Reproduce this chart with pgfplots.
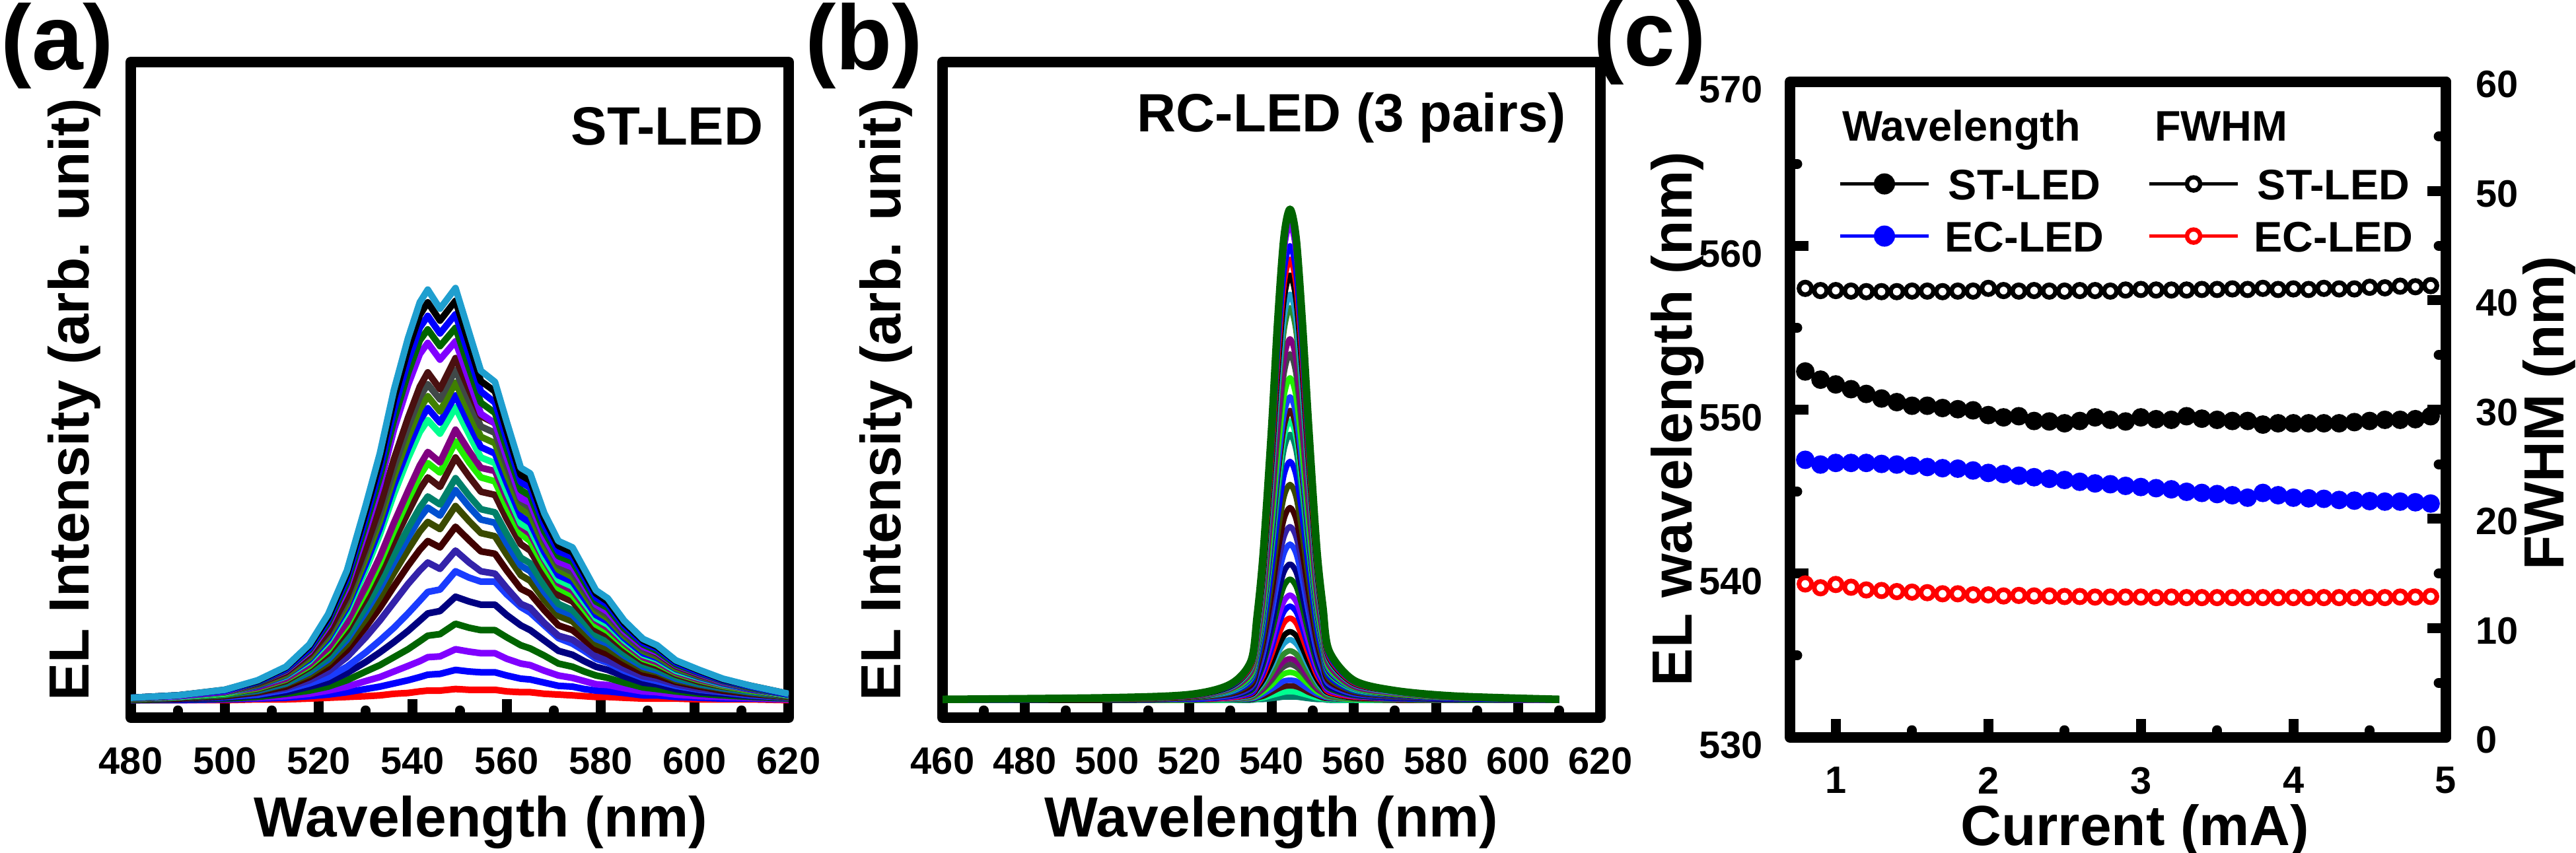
\documentclass[border=0pt]{standalone}
\usepackage{fontspec}
\setmainfont{Liberation Sans}
\usepackage{pgfplots}
\usepackage{pgfplotstable}
\pgfplotsset{compat=1.18}

\definecolor{cRed}{HTML}{FF0000}
\definecolor{cBlue}{HTML}{0000FF}
\definecolor{cViolet}{HTML}{8000FF}
\definecolor{cDkGreen}{HTML}{006400}
\definecolor{cNavy}{HTML}{000080}
\definecolor{cBlueB}{HTML}{1A3CFF}
\definecolor{cSlate}{HTML}{3322AA}
\definecolor{cWine}{HTML}{400000}
\definecolor{cOlive}{HTML}{3A4A00}
\definecolor{cRoyal}{HTML}{0050D0}
\definecolor{cTeal}{HTML}{00806A}
\definecolor{cSpring}{HTML}{00FF90}
\definecolor{cBrown}{HTML}{4A1010}
\definecolor{cLime}{HTML}{22EE00}
\definecolor{cGrey}{HTML}{404848}
\definecolor{cPurple}{HTML}{800080}
\definecolor{cGreen}{HTML}{2E8B2E}
\definecolor{cOlGreen}{HTML}{408000}
\definecolor{cCyan}{HTML}{1F9FCF}
\definecolor{cBlack}{HTML}{000000}

\pgfplotscreateplotcyclelist{alist}{%
cRed\\cBlue\\cViolet\\cDkGreen\\cNavy\\cBlueB\\cSlate\\cWine\\cOlive\\cRoyal\\cTeal\\cBrown\\cLime\\cPurple\\cSpring\\cBlue\\cOlGreen\\cGrey\\cBrown\\cViolet\\cDkGreen\\cBlue\\cBlack\\cCyan\\}
\pgfplotscreateplotcyclelist{blist}{%
cRed\\cBlue\\cViolet\\cDkGreen\\cNavy\\cBlueB\\cSlate\\cWine\\cOlive\\cBlue\\cTeal\\cSpring\\cBrown\\cBlueB\\cLime\\cGrey\\cPurple\\cGreen\\cCyan\\cBlack\\}

% Panel (a): EL spectra, ST-LED (24 currents)
\pgfplotstableread{
x a1 a2 a3 a4 a5 a6 a7 a8 a9 a10 a11 a12 a13 a14 a15 a16 a17 a18 a19 a20 a21 a22 a23 a24
480 0.00 0.00 0.00 0.00 0.01 0.01 0.01 0.01 0.01 0.02 0.02 0.02 0.02 0.02 0.02 0.02 0.02 0.02 0.03 0.03 0.03 0.03 0.03 0.03
490 0.00 0.00 0.01 0.01 0.01 0.02 0.02 0.02 0.03 0.03 0.03 0.03 0.04 0.04 0.04 0.05 0.05 0.05 0.05 0.05 0.06 0.06 0.06 0.06
500 0.00 0.01 0.02 0.02 0.03 0.04 0.05 0.05 0.06 0.07 0.07 0.08 0.08 0.09 0.09 0.10 0.10 0.10 0.11 0.11 0.12 0.12 0.13 0.13
507 0.01 0.02 0.03 0.04 0.06 0.07 0.09 0.10 0.11 0.12 0.13 0.14 0.15 0.16 0.18 0.18 0.19 0.20 0.21 0.22 0.22 0.23 0.24 0.25
513 0.01 0.03 0.05 0.08 0.10 0.13 0.15 0.17 0.20 0.21 0.22 0.24 0.26 0.27 0.30 0.31 0.32 0.34 0.35 0.37 0.38 0.39 0.41 0.42
518 0.02 0.05 0.08 0.12 0.17 0.21 0.25 0.29 0.32 0.35 0.37 0.41 0.43 0.45 0.49 0.51 0.53 0.56 0.58 0.61 0.63 0.65 0.68 0.70
522 0.03 0.07 0.12 0.17 0.23 0.29 0.36 0.42 0.47 0.51 0.54 0.59 0.63 0.66 0.74 0.77 0.80 0.83 0.86 0.94 0.97 1.01 1.04 1.08
526 0.04 0.10 0.17 0.25 0.34 0.42 0.54 0.63 0.70 0.76 0.80 0.88 0.94 0.98 1.11 1.16 1.20 1.25 1.30 1.42 1.47 1.53 1.58 1.63
530 0.05 0.14 0.24 0.36 0.48 0.60 0.79 0.92 1.02 1.11 1.17 1.28 1.36 1.43 1.64 1.71 1.78 1.86 1.92 2.13 2.21 2.29 2.37 2.45
533 0.06 0.17 0.29 0.44 0.60 0.75 1.00 1.16 1.29 1.40 1.48 1.62 1.72 1.80 2.08 2.16 2.25 2.34 2.43 2.70 2.80 2.90 3.00 3.10
536 0.08 0.21 0.36 0.54 0.73 0.91 1.23 1.43 1.60 1.73 1.83 2.00 2.13 2.23 2.59 2.70 2.81 2.92 3.03 3.40 3.52 3.65 3.78 3.90
539 0.09 0.25 0.43 0.64 0.87 1.09 1.46 1.69 1.89 2.04 2.16 2.36 2.52 2.63 3.04 3.16 3.30 3.43 3.55 3.96 4.11 4.26 4.41 4.55
541.5 0.11 0.29 0.49 0.74 1.00 1.25 1.63 1.89 2.12 2.29 2.42 2.65 2.82 2.95 3.37 3.51 3.66 3.81 3.94 4.35 4.52 4.68 4.84 5.00
543.2 0.12 0.32 0.54 0.81 1.09 1.36 1.73 2.00 2.24 2.42 2.56 2.80 2.98 3.12 3.52 3.67 3.82 3.97 4.12 4.49 4.66 4.83 5.00 5.16
545.8 0.12 0.33 0.55 0.83 1.12 1.39 1.65 1.92 2.15 2.32 2.46 2.68 2.86 2.99 3.35 3.49 3.63 3.78 3.91 4.28 4.45 4.61 4.77 4.92
549.1 0.14 0.38 0.64 0.96 1.30 1.62 1.88 2.18 2.44 2.64 2.79 3.05 3.25 3.40 3.68 3.83 3.99 4.15 4.30 4.51 4.68 4.85 5.02 5.18
552 0.13 0.36 0.61 0.91 1.24 1.54 1.73 2.01 2.25 2.43 2.57 2.81 2.99 3.13 3.34 3.47 3.62 3.76 3.90 4.02 4.17 4.33 4.48 4.62
554.5 0.13 0.35 0.59 0.88 1.20 1.49 1.62 1.87 2.10 2.27 2.40 2.62 2.80 2.92 3.05 3.18 3.31 3.44 3.57 3.60 3.74 3.88 4.01 4.14
557.5 0.13 0.35 0.59 0.88 1.20 1.49 1.59 1.84 2.06 2.23 2.36 2.58 2.75 2.88 2.98 3.10 3.23 3.36 3.48 3.48 3.61 3.74 3.88 4.00
560 0.11 0.31 0.52 0.79 1.07 1.33 1.41 1.63 1.83 1.97 2.09 2.28 2.43 2.54 2.62 2.73 2.84 2.95 3.06 3.05 3.16 3.28 3.39 3.50
563 0.10 0.27 0.46 0.69 0.94 1.17 1.21 1.40 1.57 1.69 1.79 1.96 2.09 2.18 2.22 2.31 2.41 2.50 2.59 2.54 2.64 2.74 2.83 2.92
565 0.10 0.26 0.44 0.65 0.88 1.10 1.16 1.34 1.50 1.62 1.72 1.88 2.00 2.09 2.15 2.23 2.33 2.42 2.51 2.48 2.57 2.67 2.76 2.85
568 0.08 0.22 0.37 0.56 0.75 0.94 0.97 1.13 1.26 1.36 1.44 1.58 1.68 1.76 1.79 1.86 1.94 2.02 2.09 2.05 2.12 2.20 2.28 2.35
571 0.07 0.18 0.31 0.46 0.62 0.78 0.81 0.94 1.06 1.14 1.21 1.32 1.41 1.47 1.51 1.57 1.64 1.70 1.76 1.74 1.81 1.87 1.94 2.00
574 0.06 0.17 0.28 0.42 0.57 0.71 0.76 0.88 0.99 1.07 1.13 1.24 1.32 1.38 1.43 1.49 1.55 1.61 1.67 1.67 1.74 1.80 1.86 1.92
576.5 0.05 0.14 0.24 0.36 0.49 0.62 0.66 0.76 0.85 0.92 0.98 1.07 1.14 1.19 1.23 1.28 1.34 1.39 1.44 1.44 1.49 1.55 1.60 1.65
579 0.04 0.12 0.20 0.31 0.42 0.52 0.55 0.64 0.71 0.77 0.82 0.89 0.95 1.00 1.03 1.07 1.12 1.16 1.20 1.20 1.24 1.29 1.34 1.38
581.5 0.04 0.11 0.19 0.28 0.38 0.47 0.50 0.58 0.65 0.71 0.75 0.82 0.87 0.91 0.95 0.99 1.03 1.07 1.11 1.11 1.16 1.20 1.24 1.28
585 0.03 0.09 0.15 0.22 0.30 0.37 0.40 0.46 0.52 0.56 0.59 0.65 0.69 0.72 0.75 0.78 0.81 0.84 0.87 0.87 0.90 0.94 0.97 1.00
589 0.02 0.06 0.11 0.16 0.22 0.28 0.30 0.35 0.39 0.42 0.45 0.49 0.52 0.54 0.57 0.59 0.62 0.64 0.67 0.67 0.70 0.72 0.75 0.77
592 0.02 0.06 0.10 0.14 0.20 0.24 0.27 0.31 0.35 0.37 0.40 0.43 0.46 0.48 0.51 0.53 0.55 0.57 0.59 0.60 0.62 0.65 0.67 0.69
596 0.02 0.04 0.07 0.11 0.14 0.18 0.20 0.23 0.25 0.27 0.29 0.32 0.34 0.35 0.37 0.39 0.40 0.42 0.43 0.44 0.45 0.47 0.49 0.50
601 0.01 0.03 0.05 0.08 0.10 0.13 0.14 0.17 0.19 0.20 0.21 0.23 0.25 0.26 0.28 0.29 0.30 0.31 0.32 0.33 0.34 0.35 0.37 0.38
606 0.01 0.02 0.04 0.06 0.08 0.10 0.11 0.12 0.14 0.15 0.16 0.17 0.18 0.19 0.20 0.21 0.22 0.22 0.23 0.23 0.24 0.25 0.26 0.27
612 0.01 0.02 0.03 0.04 0.05 0.06 0.07 0.08 0.09 0.10 0.11 0.12 0.12 0.13 0.14 0.14 0.15 0.15 0.16 0.16 0.16 0.17 0.18 0.18
620 0.00 0.01 0.01 0.02 0.03 0.03 0.03 0.04 0.04 0.05 0.05 0.05 0.06 0.06 0.06 0.07 0.07 0.07 0.07 0.07 0.07 0.07 0.08 0.08
}\tabA

% Panel (b): EL spectra, RC-LED (34 currents)
\pgfplotstableread{
x b1 b2 b3 b4 b5 b6 b7 b8 b9 b10 b11 b12 b13 b14 b15 b16 b17 b18 b19 b20 b21 b22 b23 b24 b25 b26 b27 b28 b29 b30 b31 b32 b33 b34
460 0.00 0.00 0.00 0.00 0.00 0.00 0.00 0.00 0.00 0.00 0.00 0.00 0.00 0.00 0.00 0.00 0.00 0.01 0.01 0.01 0.01 0.01 0.01 0.01 0.01 0.01 0.01 0.01 0.01 0.01 0.01 0.01 0.01 0.01
500 0.00 0.00 0.00 0.00 0.00 0.00 0.00 0.00 0.00 0.00 0.01 0.01 0.01 0.01 0.01 0.01 0.01 0.01 0.01 0.02 0.02 0.02 0.02 0.02 0.02 0.02 0.02 0.02 0.03 0.03 0.03 0.03 0.03 0.03
520 0.00 0.00 0.00 0.00 0.00 0.01 0.01 0.01 0.01 0.01 0.01 0.01 0.02 0.02 0.02 0.02 0.03 0.03 0.03 0.04 0.04 0.04 0.04 0.05 0.05 0.05 0.05 0.06 0.06 0.06 0.07 0.07 0.07 0.07
530 0.00 0.00 0.01 0.01 0.01 0.01 0.02 0.02 0.02 0.03 0.03 0.04 0.04 0.05 0.05 0.06 0.07 0.08 0.09 0.10 0.11 0.11 0.12 0.12 0.13 0.14 0.15 0.16 0.16 0.17 0.18 0.18 0.19 0.20
535 0.00 0.01 0.01 0.02 0.03 0.04 0.04 0.05 0.06 0.07 0.08 0.09 0.11 0.12 0.14 0.16 0.17 0.19 0.22 0.24 0.27 0.28 0.29 0.30 0.32 0.35 0.36 0.39 0.41 0.43 0.44 0.46 0.48 0.49
536.5 0.01 0.02 0.03 0.04 0.06 0.08 0.09 0.11 0.13 0.15 0.18 0.20 0.22 0.26 0.29 0.33 0.37 0.41 0.46 0.51 0.57 0.60 0.62 0.65 0.69 0.74 0.77 0.84 0.87 0.91 0.94 0.97 1.02 1.05
538 0.01 0.03 0.05 0.08 0.11 0.14 0.16 0.19 0.23 0.26 0.31 0.35 0.40 0.46 0.51 0.59 0.65 0.73 0.81 0.90 1.00 1.05 1.09 1.14 1.22 1.31 1.36 1.48 1.53 1.60 1.66 1.71 1.79 1.85
540 0.02 0.06 0.10 0.14 0.19 0.25 0.29 0.34 0.42 0.47 0.57 0.65 0.73 0.84 0.94 1.08 1.20 1.33 1.49 1.65 1.84 1.93 2.00 2.10 2.23 2.39 2.50 2.71 2.81 2.94 3.05 3.14 3.29 3.39
541.5 0.03 0.08 0.14 0.19 0.27 0.35 0.40 0.48 0.59 0.66 0.79 0.91 1.02 1.17 1.32 1.51 1.68 1.86 2.09 2.31 2.57 2.70 2.80 2.93 3.12 3.35 3.50 3.80 3.93 4.11 4.27 4.40 4.60 4.75
543 0.04 0.10 0.17 0.24 0.33 0.42 0.49 0.58 0.71 0.81 0.97 1.11 1.24 1.43 1.61 1.84 2.05 2.27 2.55 2.82 3.14 3.30 3.42 3.58 3.81 4.09 4.27 4.63 4.79 5.02 5.21 5.37 5.62 5.80
544.5 0.04 0.11 0.18 0.25 0.35 0.45 0.52 0.62 0.76 0.86 1.03 1.18 1.32 1.52 1.71 1.96 2.18 2.42 2.71 3.00 3.34 3.51 3.64 3.81 4.05 4.35 4.54 4.93 5.10 5.34 5.54 5.71 5.98 6.17
546 0.04 0.10 0.17 0.24 0.33 0.42 0.49 0.58 0.71 0.81 0.97 1.11 1.24 1.43 1.61 1.84 2.05 2.27 2.55 2.82 3.14 3.30 3.42 3.58 3.81 4.09 4.27 4.63 4.79 5.02 5.21 5.37 5.62 5.80
547.5 0.03 0.08 0.14 0.19 0.27 0.35 0.40 0.48 0.59 0.66 0.79 0.91 1.02 1.17 1.32 1.51 1.68 1.86 2.09 2.31 2.57 2.70 2.80 2.93 3.12 3.35 3.50 3.80 3.93 4.11 4.27 4.40 4.60 4.75
549 0.02 0.06 0.10 0.14 0.20 0.25 0.29 0.35 0.43 0.48 0.58 0.66 0.74 0.85 0.96 1.10 1.22 1.36 1.52 1.68 1.87 1.97 2.04 2.13 2.27 2.44 2.54 2.76 2.86 2.99 3.10 3.20 3.35 3.46
551 0.01 0.03 0.06 0.08 0.11 0.14 0.16 0.19 0.24 0.27 0.32 0.37 0.41 0.47 0.53 0.61 0.68 0.75 0.84 0.93 1.04 1.09 1.13 1.18 1.26 1.35 1.41 1.53 1.58 1.66 1.72 1.77 1.85 1.91
552.5 0.01 0.02 0.03 0.05 0.07 0.09 0.10 0.12 0.14 0.16 0.20 0.22 0.25 0.29 0.32 0.37 0.41 0.46 0.51 0.57 0.63 0.67 0.69 0.72 0.77 0.83 0.86 0.94 0.97 1.01 1.05 1.08 1.14 1.17
554 0.00 0.01 0.02 0.03 0.04 0.05 0.05 0.06 0.08 0.09 0.10 0.12 0.13 0.15 0.17 0.20 0.22 0.24 0.27 0.30 0.33 0.35 0.36 0.38 0.41 0.44 0.45 0.49 0.51 0.53 0.55 0.57 0.60 0.62
560 0.00 0.00 0.01 0.01 0.01 0.02 0.02 0.02 0.03 0.03 0.04 0.05 0.05 0.06 0.07 0.08 0.09 0.10 0.11 0.12 0.13 0.14 0.15 0.15 0.16 0.17 0.18 0.20 0.20 0.21 0.22 0.23 0.24 0.25
570 0.00 0.00 0.00 0.01 0.01 0.01 0.01 0.01 0.02 0.02 0.02 0.02 0.03 0.03 0.03 0.04 0.04 0.05 0.05 0.06 0.07 0.07 0.07 0.08 0.08 0.09 0.09 0.10 0.10 0.11 0.11 0.11 0.12 0.12
585 0.00 0.00 0.00 0.00 0.00 0.00 0.00 0.00 0.01 0.01 0.01 0.01 0.01 0.01 0.01 0.02 0.02 0.02 0.02 0.02 0.03 0.03 0.03 0.03 0.03 0.03 0.04 0.04 0.04 0.04 0.04 0.05 0.05 0.05
610 0.00 0.00 0.00 0.00 0.00 0.00 0.00 0.00 0.00 0.00 0.00 0.00 0.00 0.01 0.01 0.01 0.01 0.01 0.01 0.01 0.01 0.01 0.01 0.01 0.01 0.01 0.01 0.01 0.01 0.01 0.01 0.01 0.01 0.01
}\tabB

% Panel (c): peak wavelength and FWHM vs current
\pgfplotstableread{
x stw ecw stf ecf
0.8 552.33 546.94 41.10 14.05
0.9 551.83 546.65 40.90 13.70
1.0 551.54 546.75 40.90 14.00
1.1 551.25 546.75 40.85 13.75
1.2 550.96 546.75 40.80 13.50
1.3 550.68 546.69 40.80 13.45
1.4 550.46 546.65 40.80 13.35
1.5 550.24 546.58 40.85 13.30
1.6 550.24 546.50 40.85 13.25
1.7 550.10 546.43 40.80 13.15
1.8 550.03 546.40 40.85 13.15
1.9 549.96 546.29 40.85 13.05
2.0 549.67 546.14 41.10 13.05
2.1 549.53 546.07 40.90 12.95
2.2 549.60 545.97 40.85 13.00
2.3 549.31 545.88 40.90 12.95
2.4 549.28 545.78 40.85 12.95
2.5 549.17 545.71 40.85 12.90
2.6 549.31 545.60 40.90 12.90
2.7 549.53 545.50 40.90 12.85
2.8 549.38 545.45 40.85 12.85
2.9 549.28 545.35 40.95 12.85
3.0 549.53 545.28 41.00 12.85
3.1 549.42 545.21 40.95 12.80
3.2 549.38 545.14 40.95 12.85
3.3 549.60 544.99 40.95 12.80
3.4 549.45 544.92 41.00 12.80
3.5 549.38 544.85 41.00 12.80
3.6 549.31 544.78 41.05 12.80
3.7 549.31 544.63 41.00 12.80
3.8 549.09 544.92 41.10 12.80
3.9 549.17 544.78 41.00 12.80
4.0 549.17 544.63 41.05 12.80
4.1 549.17 544.59 41.00 12.80
4.2 549.17 544.56 41.10 12.80
4.3 549.17 544.49 41.05 12.80
4.4 549.24 544.45 41.05 12.80
4.5 549.31 544.42 41.20 12.80
4.6 549.38 544.39 41.15 12.80
4.7 549.38 544.39 41.30 12.85
4.8 549.42 544.35 41.25 12.85
4.9 549.60 544.27 41.35 12.90
}\tabC

\pgfplotsset{
  myaxis/.style={
    scale only axis,
    anchor=south west,
    axis line style={-, line width=1.6bp, line join=round, line cap=round},
    tick align=inside,
    tick pos=left,
    major tick length=2.8bp,
    minor tick length=1.1bp,
    major tick style={line width=1.5bp, black, line cap=butt},
    minor tick style={line width=1.5bp, black, line cap=round},
    tick label style={font=\fontsize{5.8}{6.8}\selectfont\bfseries},
    label style={font=\fontsize{8.6}{10}\selectfont\bfseries},
    /pgf/number format/assume math mode=true,
    xticklabel style={yshift=-1bp},
  },
}

\begin{document}
\begin{tikzpicture}
\path[use as bounding box] (0bp,0bp) rectangle (390bp,129.2bp);

% ---------- (a) ----------
\begin{axis}[myaxis, at={(19.8bp,20.5bp)}, width=99.6bp, height=99.3bp,
  xmin=480, xmax=620, ymin=-0.22, ymax=8.02,
  xtick={480,500,...,620}, minor xtick={490,510,...,610},
  ytick=\empty, minor ytick={1,...,7},
  xlabel={Wavelength (nm)}, ylabel={EL Intensity (arb. unit)},
  xlabel style={at={(axis description cs:0.532,-0.16)}, anchor=center},
  ylabel style={at={(axis description cs:-0.0863,0.485)}, anchor=center},
  cycle list name=alist, no markers,
  every axis plot/.append style={line width=1.0bp, line join=round},
]
\pgfplotsinvokeforeach{1,...,24}{\addplot table[x=x,y=a#1]{\tabA};}
\end{axis}

% ---------- (b) ----------
\begin{axis}[myaxis, at={(142.7bp,20.5bp)}, width=99.6bp, height=99.3bp,
  xmin=460, xmax=620, ymin=-0.22, ymax=8.02,
  xtick={460,480,...,620}, minor xtick={470,490,...,610},
  ytick=\empty, minor ytick={1,...,7},
  xlabel={Wavelength (nm)}, ylabel={EL Intensity (arb. unit)},
  xlabel style={at={(axis description cs:0.5,-0.16)}, anchor=center},
  ylabel style={at={(axis description cs:-0.0863,0.485)}, anchor=center},
  cycle list name=blist, cycle list shift=10, no markers,
  every axis plot/.append style={line width=0.85bp, line join=round},
]
\pgfplotsinvokeforeach{1,...,33}{\addplot+[smooth] table[x=x,y=b#1]{\tabB};}
\addplot[cDkGreen, line width=1.15bp, smooth] table[x=x,y=b34]{\tabB};
\end{axis}

% ---------- (c) left axis ----------
\begin{axis}[myaxis, at={(271.0bp,17.5bp)}, width=99.3bp, height=99.3bp,
  xmin=0.7, xmax=5, ymin=530, ymax=570,
  xtick={1,...,5}, minor xtick={1.5,2.5,3.5,4.5},
  ytick={530,540,...,570}, minor ytick={535,545,555,565},
  yticklabel style={xshift=-0.6bp, yshift=-1.2bp},
  xlabel={Current (mA)}, ylabel={EL wavelength (nm)},
  xlabel style={at={(axis description cs:0.526,-0.142)}, anchor=center},
  ylabel style={at={(axis description cs:-0.172,0.486)}, anchor=center},
  legend columns=2,
  legend style={draw=none, fill=none, inner sep=0pt, outer sep=0pt,
    at={(axis description cs:0.074,0.868)}, anchor=north west,
    font=\fontsize{6.5}{7.5}\selectfont\bfseries,
    row sep=3.2bp,
    nodes={inner sep=0pt, text height=4.7bp, text depth=0pt},
    /tikz/every odd column/.append style={column sep=2.2bp},
    /tikz/every even column/.append style={column sep=6.6bp}},
  legend image code/.code={\draw[mark repeat=2,mark phase=2,#1] plot coordinates {(0bp,0bp) (6.7bp,0bp) (13.4bp,0bp)};},
]
\addplot[black, line width=0.4bp, mark=*, mark size=1.2bp, forget plot] table[x=x,y=stw]{\tabC};
\addplot[cBlue, line width=0.4bp, mark=*, mark size=1.2bp, forget plot] table[x=x,y=ecw]{\tabC};
\addlegendimage{black, line width=0.5bp, mark=*, mark size=1.35bp}
\addlegendentry{ST-LED}
\addlegendimage{black, line width=0.5bp, mark=*, mark size=1.0bp, mark options={fill=white, line width=0.65bp}}
\addlegendentry{ST-LED}
\addlegendimage{cBlue, line width=0.5bp, mark=*, mark size=1.35bp}
\addlegendentry{EC-LED}
\addlegendimage{cRed, line width=0.5bp, mark=*, mark size=1.0bp, mark options={fill=white, line width=0.65bp}}
\addlegendentry{EC-LED}
\end{axis}

% ---------- (c) right axis ----------
\begin{axis}[myaxis, at={(271.0bp,17.5bp)}, width=99.3bp, height=99.3bp,
  xmin=0.7, xmax=5, ymin=0, ymax=60,
  axis x line=none, axis y line*=right, tick pos=right,
  ytick={0,10,...,60}, minor ytick={5,15,...,55},
  yticklabel style={xshift=1bp, yshift=-0.4bp},
  ylabel={FWHM (nm)},
  ylabel style={at={(axis description cs:1.157,0.495)}, anchor=center, rotate=0},
]
\addplot[black, line width=0.4bp, mark=*, mark size=0.95bp, mark options={fill=white, line width=0.7bp}] table[x=x,y=stf]{\tabC};
\addplot[cRed, line width=0.4bp, mark=*, mark size=0.95bp, mark options={fill=white, line width=0.7bp}] table[x=x,y=ecf]{\tabC};
\end{axis}

% ---------- texts ----------
\node[anchor=base west, inner sep=0pt, font=\fontsize{14}{16}\selectfont\bfseries] at (0bp,118.6bp) {(a)};
\node[anchor=base west, inner sep=0pt, font=\fontsize{14}{16}\selectfont\bfseries] at (121.7bp,118.6bp) {(b)};
\node[anchor=base west, inner sep=0pt, font=\fontsize{14}{16}\selectfont\bfseries] at (241.0bp,119.2bp) {(c)};
\node[anchor=base east, inner sep=0pt, font=\fontsize{8.2}{10}\selectfont\bfseries] at (115.7bp,107.2bp) {ST-LED};
\node[anchor=base east, inner sep=0pt, font=\fontsize{8.2}{10}\selectfont\bfseries] at (237.3bp,109.2bp) {RC-LED (3 pairs)};
\node[anchor=base west, inner sep=0pt, font=\fontsize{6.5}{7.5}\selectfont\bfseries] at (278.7bp,107.8bp) {Wavelength};
\node[anchor=base west, inner sep=0pt, font=\fontsize{6.5}{7.5}\selectfont\bfseries] at (326.0bp,107.8bp) {FWHM};
\end{tikzpicture}
\end{document}
